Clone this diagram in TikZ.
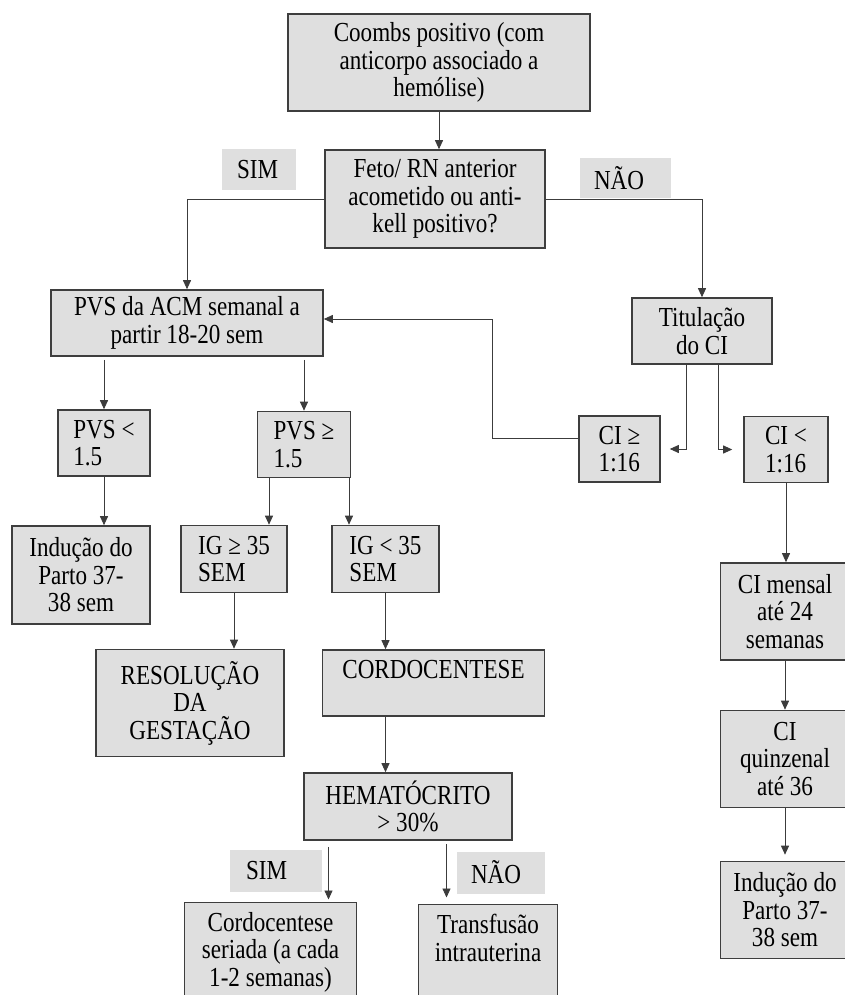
\documentclass[tikz,border=0pt]{standalone}
\usepackage{fontspec}
\setmainfont{Liberation Serif}[FakeStretch=0.84]
\usetikzlibrary{arrows.meta}

\definecolor{cinzacaixa}{RGB}{223,223,223}
\definecolor{cinzaborda}{RGB}{62,62,62}
\definecolor{cinzaseta}{RGB}{60,60,60}

\begin{document}
\begin{tikzpicture}[x=1pt, y=-1pt,
		caixa/.style={draw=cinzaborda, fill=cinzacaixa, line width=1.6pt, align=center, inner sep=1pt, font=\fontsize{27.5}{27.5}\selectfont},
		rotulo/.style={fill=cinzacaixa, align=left, inner ysep=0pt, font=\fontsize{27.5}{27.5}\selectfont},
		seta/.style={draw=cinzaseta, line width=0.9pt, -{Triangle[length=9pt, width=8pt]}}]
		
		% Janela do desenho
		\useasboundingbox (0,0) rectangle (844,995);
		
		% Topo: Coombs e pergunta inicial
		\node [caixa, minimum width=302pt, minimum height=97pt] (coombs) at (439,62.5) {Coombs positivo (com\\anticorpo associado a\\hemólise)};
		\node [caixa, minimum width=220pt, minimum height=98pt] (feto) at (435,199) {Feto/ RN anterior\\acometido ou anti-\\kell positivo?};
		\node [rotulo, inner xsep=15pt, text width=44pt, minimum height=41pt] (sima) at (259,170) {SIM};
		\node [rotulo, inner xsep=14pt, text width=63pt, minimum height=40pt] (naoa) at (625.5,178) {NÃO};
		
		% Ramo SIM: PVS da ACM
		\node [caixa, minimum width=272pt, minimum height=66pt] (pvsacm) at (187,323) {\raisebox{-4pt}{PVS da ACM semanal a}\\\raisebox{-4pt}{partir 18-20 sem}};
		\node [caixa, align=left, minimum width=92pt, minimum height=66pt] (pvsmenor) at (104,443) {PVS <\\1.5};
		\node [caixa, align=left, minimum width=93pt, minimum height=66pt] (pvsmaior) at (304,444.5) {PVS ≥\\1.5};
		\node [caixa, minimum width=138pt, minimum height=98pt] (inducaoa) at (81,575) {Indução do\\Parto 37-\\38 sem};
		\node [caixa, align=left, minimum width=106pt, minimum height=67pt] (igmaior) at (234,559) {IG ≥ 35\\SEM};
		\node [caixa, align=left, minimum width=107pt, minimum height=67pt] (igmenor) at (385.5,559) {IG < 35\\SEM};
		\node [caixa, minimum width=188pt, minimum height=107pt] (resol) at (190,703) {RESOLUÇÃO\\DA\\GESTAÇÃO};
		\node [caixa, minimum width=222pt, minimum height=66pt] (cordo) at (433.5,683) {CORDOCENTESE\\\mbox{}};
		\node [caixa, minimum width=208pt, minimum height=67pt] (hemato) at (408,806.5) {HEMATÓCRITO\\> 30\%};
		\node [rotulo, inner xsep=16pt, text width=60pt, minimum height=42pt] (simb) at (276,871) {SIM};
		\node [rotulo, inner xsep=14pt, text width=60pt, minimum height=42pt] (naob) at (501,872.5) {NÃO};
		\node [caixa, anchor=north, inner ysep=10pt, minimum width=172pt] (seriada) at (270.5,901.5) {Cordocentese\\seriada (a cada\\1-2 semanas)\\\mbox{}};
		\node [caixa, anchor=north, inner ysep=10pt, minimum width=139pt] (transf) at (488,903.5) {Transfusão\\intrauterina\\\mbox{}\\\mbox{}};
		
		% Ramo NÃO: titulação do CI
		\node [caixa, minimum width=140pt, minimum height=66pt] (tit) at (702,331) {Titulação\\do CI};
		\node [caixa, align=left, minimum width=81pt, minimum height=66pt] (cimaior) at (619.5,449) {CI ≥\\1:16};
		\node [caixa, align=left, minimum width=84pt, minimum height=66pt] (cimenor) at (786,449.5) {CI <\\1:16};
		\node [caixa, minimum width=129pt, minimum height=97pt] (cimensal) at (785,611.5) {CI mensal\\até 24\\semanas};
		\node [caixa, minimum width=129pt, minimum height=97pt] (quinz) at (785,759) {CI\\quinzenal\\até 36};
		\node [caixa, minimum width=129pt, minimum height=97pt] (inducaob) at (785,910) {Indução do\\Parto 37-\\38 sem};
		
		% Guias verticais das setas
		\coordinate (xigmaior) at (269,0);
		\coordinate (xigmenor) at (349,0);
		\coordinate (xsim) at (328.5,0);
		\coordinate (xnao) at (446.5,0);
		\coordinate (xtitesq) at (686,0);
		\coordinate (xtitdir) at (718,0);
		\coordinate (retorno) at (492,438);
		
		% Setas
		\draw [seta] (coombs.south) -- (coombs.south |- feto.north);
		\draw [seta] (feto.west) -| (pvsacm.north);
		\draw [seta] (feto.east) -| (tit.north);
		\draw [seta, shorten <=3pt] (pvsacm.south -| pvsmenor.north) -- (pvsmenor.north);
		\draw [seta, shorten <=3pt] (pvsacm.south -| pvsmaior.north) -- (pvsmaior.north);
		\draw [seta] (pvsmenor.south) -- (pvsmenor.south |- inducaoa.north);
		\draw [seta] (pvsmaior.south -| xigmaior) -- (igmaior.north -| xigmaior);
		\draw [seta] (pvsmaior.south -| xigmenor) -- (igmenor.north -| xigmenor);
		\draw [seta] (igmaior.south) -- (igmaior.south |- resol.north);
		\draw [seta] (igmenor.south) -- (igmenor.south |- cordo.north);
		\draw [seta] (igmenor.south |- cordo.south) -- (igmenor.south |- hemato.north);
		\draw [seta, shorten <=6pt, shorten >=2pt] (hemato.south -| xsim) -- (seriada.north -| xsim);
		\draw [seta, shorten <=3pt, shorten >=6pt] (hemato.south -| xnao) -- (transf.north -| xnao);
		\draw [seta] (tit.south -| xtitesq) |- ([xshift=9pt]cimaior.east);
		\draw [seta] (tit.south -| xtitdir) |- ([xshift=-11pt]cimenor.west);
		\draw [seta] ([yshift=11pt]cimaior.west) -- (retorno) |- ([yshift=4pt]pvsacm.east);
		\draw [seta] (cimenor.south) -- (cimenor.south |- cimensal.north);
		\draw [seta] (cimensal.south) -- (quinz.north);
		\draw [seta, shorten >=6pt] (quinz.south) -- (inducaob.north);
		
	\end{tikzpicture}
\end{document}
